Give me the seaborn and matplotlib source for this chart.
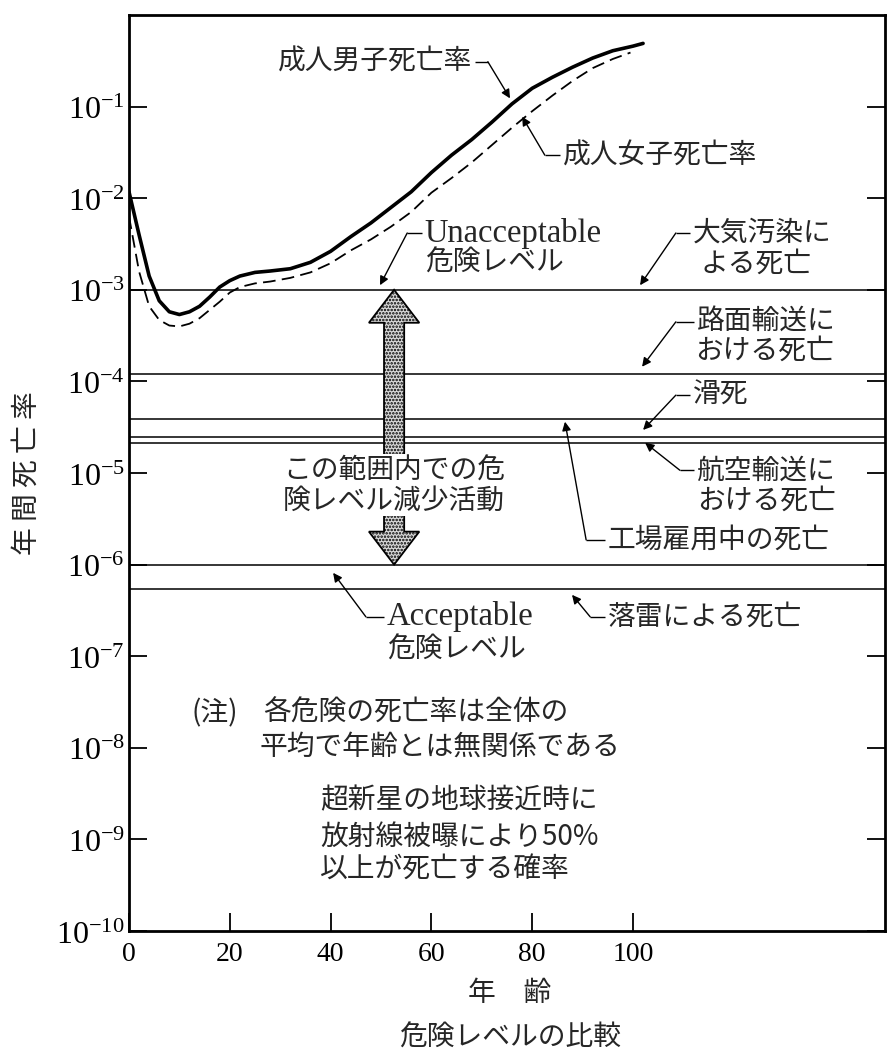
#!/usr/bin/env python3
"""Comparison of risk levels: adult mortality vs. constant hazard levels (log scale)."""
import numpy as np
import pandas as pd
import matplotlib
matplotlib.use('Agg')
import matplotlib.pyplot as plt
from matplotlib.patches import Polygon
import seaborn as sns

# --- data ------------------------------------------------------------------
AGE_MALE = [0, 2, 4, 6, 8, 10, 12, 14, 16, 18, 20, 22, 25, 28, 32, 36, 40, 44,
            48, 52, 56, 60, 64, 68, 72, 76, 80, 84, 88, 92, 96, 100, 102]
MALE_LOG10 = [-1.93, -2.40, -2.85, -3.12, -3.24, -3.27, -3.24, -3.18, -3.08,
              -2.97, -2.90, -2.85, -2.81, -2.795, -2.77, -2.70, -2.58, -2.42,
              -2.27, -2.10, -1.93, -1.72, -1.53, -1.36, -1.17, -0.97, -0.80,
              -0.68, -0.57, -0.47, -0.39, -0.34, -0.31]
AGE_FEMALE = [0, 2, 4, 6, 8, 10, 12, 14, 16, 18, 20, 22, 25, 28, 32, 36, 40, 44,
              48, 52, 56, 60, 64, 68, 72, 76, 80, 84, 88, 92, 96, 99.5]
FEMALE_LOG10 = [-2.20, -2.80, -3.18, -3.33, -3.39, -3.40, -3.37, -3.31, -3.22,
                -3.13, -3.03, -2.97, -2.93, -2.91, -2.87, -2.81, -2.71, -2.57,
                -2.45, -2.31, -2.15, -1.94, -1.78, -1.61, -1.42, -1.23, -1.05,
                -0.88, -0.72, -0.58, -0.48, -0.41]

HAZARD_NAMES = ['大気汚染', '路面輸送', '工場雇用中', '滑死', '航空輸送',
                'Acceptable', '落雷']
HAZARD_RATES = [1.0e-3, 1.2e-4, 3.9e-5, 2.5e-5, 2.1e-5, 1.0e-6, 5.4e-7]
UNACCEPTABLE = 1.0e-3
ACCEPTABLE = 1.0e-6

X_TICKS = [0, 20, 40, 60, 80, 100]
Y_TICKS = [1e-10, 1e-9, 1e-8, 1e-7, 1e-6, 1e-5, 1e-4, 1e-3, 1e-2, 1e-1]
Y_TICK_LABELS = [r'$10^{-10}$', r'$10^{-9}$', r'$10^{-8}$', r'$10^{-7}$',
                 r'$10^{-6}$', r'$10^{-5}$', r'$10^{-4}$', r'$10^{-3}$',
                 r'$10^{-2}$', r'$10^{-1}$']

JP = ['Noto Sans CJK JP', 'DejaVu Sans']
SERIF = ['Liberation Serif', 'DejaVu Serif']
JP_SIZE = 20
EN_SIZE = 23.5

sns.set_theme(style='ticks')
plt.rcParams['font.family'] = JP
plt.rcParams['mathtext.fontset'] = 'custom'
plt.rcParams['mathtext.rm'] = 'Liberation Serif'
plt.rcParams['mathtext.it'] = 'Liberation Serif:italic'
plt.rcParams['hatch.linewidth'] = 1.2

male = pd.DataFrame({'age': AGE_MALE, 'rate': 10.0 ** np.array(MALE_LOG10)})
female = pd.DataFrame({'age': AGE_FEMALE, 'rate': 10.0 ** np.array(FEMALE_LOG10)})

fig = plt.figure(figsize=(8.96, 10.61), dpi=100)
W, H = 896, 1061
ax = fig.add_axes([129 / W, 1 - 931 / H, (885 - 129) / W, (931 - 15) / H])
ax.set_yscale('log')

# hazard levels
ax.hlines(HAZARD_RATES, 0, 150, colors='black', linewidth=1.1, zorder=2)

sns.lineplot(data=male, x='age', y='rate', color='black', linewidth=2.6,
             ax=ax, zorder=3)
sns.lineplot(data=female, x='age', y='rate', color='black', linewidth=1.3,
             linestyle=(0, (7, 3.5)), ax=ax, zorder=3)

ax.set_xlim(0, 150)
ax.set_ylim(1e-10, 1)
ax.set_xlabel('')
ax.set_ylabel('')

# double gray arrow between the two risk levels
xc, hw, sw, hl = 52.6, 5.0, 2.0, 0.36
top, bot = np.log10(UNACCEPTABLE), np.log10(ACCEPTABLE)
verts = [(xc, top), (xc + hw, top - hl), (xc + sw, top - hl), (xc + sw, bot + hl),
         (xc + hw, bot + hl), (xc, bot), (xc - hw, bot + hl), (xc - sw, bot + hl),
         (xc - sw, top - hl), (xc - hw, top - hl)]
verts = [(vx, 10.0 ** vy) for vx, vy in verts]
ax.add_patch(Polygon(verts, closed=True, facecolor='#d9d9d9', edgecolor='black',
                     hatch='.....', linewidth=1.3, zorder=4))

for line, ly in zip(['この範囲内での危', '険レベル減少活動'], [-4.97, -5.30]):
    ax.text(xc, 10 ** ly, line, fontsize=JP_SIZE, ha='center', va='center',
            zorder=5, bbox=dict(facecolor='white', edgecolor='none', pad=0.5))


def leader(tx, tlog, kx, tipx, tiplog, side='left'):
    """Horizontal stub from the text to a knee, then an arrow to the tip."""
    gap = 0.6 if side == 'left' else -0.6
    ax.plot([tx - gap, kx], [10 ** tlog, 10 ** tlog], color='black', lw=1.0,
            zorder=6, solid_capstyle='butt')
    ax.annotate('', xy=(tipx, 10 ** tiplog), xytext=(kx, 10 ** tlog),
                arrowprops=dict(arrowstyle='-|>', color='black', lw=1.0,
                                mutation_scale=13, shrinkA=0, shrinkB=0),
                zorder=6)


def jp(x, log, s, ha='left', **kw):
    ax.text(x, 10 ** log, s, fontsize=JP_SIZE, ha=ha, va='center', **kw)


# adult male / female
jp(68.1, -0.51, '成人男子死亡率', ha='right')
leader(68.1, -0.51, 71.2, 75.6, -0.91, side='right')
jp(86.1, -1.53, '成人女子死亡率')
leader(86.1, -1.53, 82.5, 78.0, -1.11)

# unacceptable
ax.text(58.7, 10 ** -2.38, 'Unacceptable', fontsize=EN_SIZE, family=SERIF,
        ha='left', va='center')
jp(58.7, -2.70, '危険レベル')
leader(58.7, -2.38, 55.2, 49.8, -2.95)

# air pollution
jp(111.9, -2.38, '大気汚染に')
jp(113.3, -2.71, 'よる死亡')
leader(111.9, -2.38, 108.5, 101.4, -2.95)

# road transport
jp(112.7, -3.35, '路面輸送に')
jp(112.3, -3.66, 'おける死亡')
leader(112.7, -3.35, 108.5, 101.8, -3.84)

# falls
jp(111.9, -4.15, '滑死')
leader(111.9, -4.15, 108.5, 102.0, -4.53)

# air transport
jp(112.7, -4.97, '航空輸送に')
jp(112.7, -5.30, 'おける死亡')
leader(112.7, -4.97, 109.3, 102.4, -4.67)

# factory work
jp(95.0, -5.73, '工場雇用中の死亡')
leader(95.0, -5.73, 90.7, 86.5, -4.44)

# lightning
jp(95.0, -6.57, '落雷による死亡')
leader(95.0, -6.57, 91.5, 87.9, -6.33)

# acceptable
ax.text(51.2, 10 ** -6.57, 'Acceptable', fontsize=EN_SIZE, family=SERIF,
        ha='left', va='center')
jp(51.2, -6.93, '危険レベル')
leader(51.2, -6.57, 47.0, 40.5, -6.09)

# notes
jp(12.5, -7.62, '(注)')
jp(26.6, -7.62, '各危険の死亡率は全体の')
jp(26.0, -7.99, '平均で年齢とは無関係である')
for line, ly in zip(['超新星の地球接近時に', '放射線被曝により50%', '以上が死亡する確率'],
                    [-8.57, -8.97, -9.33]):
    jp(37.9, ly, line)

# axes styling
ax.set_xticks(X_TICKS)
ax.set_xticklabels([str(t) for t in X_TICKS], family=SERIF, fontsize=20)
ax.set_yticks(Y_TICKS)
ax.set_yticklabels(Y_TICK_LABELS, fontsize=23)
ax.minorticks_off()
ax.tick_params(axis='both', direction='in', length=13, width=1.3,
               color='black', labelcolor='black')
ax.tick_params(axis='y', right=True, left=True, pad=3)
ax.tick_params(axis='x', top=False, pad=8)
for sp in ax.spines.values():
    sp.set_linewidth(2.0)
    sp.set_color('black')
    sp.set_visible(True)

fig.text(27 / W, 1 - 473 / H, '年 間 死 亡 率', rotation=90, fontsize=JP_SIZE,
         ha='center', va='center')
fig.text(510 / W, 1 - 993 / H, '年　齢', fontsize=JP_SIZE, ha='center', va='center')
fig.text(510 / W, 1 - 1038 / H, '危険レベルの比較', fontsize=JP_SIZE,
         ha='center', va='center')

fig.savefig('out.png', dpi=100, facecolor='white')
